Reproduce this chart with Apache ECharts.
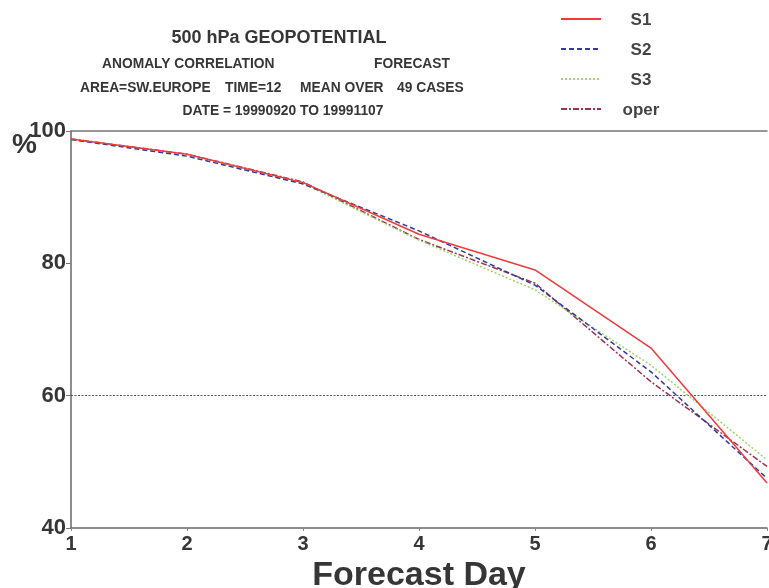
<!DOCTYPE html>
<html>
<head>
<meta charset="utf-8">
<script src="https://cdn.jsdelivr.net/npm/echarts@6/dist/echarts.min.js"></script>
<style>
html,body{margin:0;padding:0;background:#fff;overflow:hidden;}
#chart{width:769px;height:588px;}
</style>
</head>
<body>
<div id="chart"></div>
<script>
const days = [1, 2, 3, 4, 5, 6, 7];
const s1 = [98.8, 96.5, 92.2, 84.4, 79.0, 67.2, 46.8];
const s2 = [98.7, 96.2, 92.0, 84.9, 76.7, 63.6, 47.5];
const s3 = [98.8, 96.4, 92.1, 83.5, 76.0, 64.6, 50.3];
const oper = [98.8, 96.5, 92.3, 83.6, 77.0, 62.1, 49.3];
const seriesNames = ['S1', 'S2', 'S3', 'oper'];
const yTicks = [40, 60, 80, 100];
const refLine = 60;

const FONT = '"Liberation Sans", Arial, Helvetica, sans-serif';
const TXT = '#363636';
const pairs = arr => days.map((d, i) => [d, arr[i]]);

const chart = echarts.init(document.getElementById('chart'), null, {renderer: 'canvas', width: 769, height: 588});
const styles = [
  {color: '#f23a3a', type: 'solid'},
  {color: '#2f3b9e', type: [5, 3]},
  {color: '#9fd46a', type: [2, 2]},
  {color: '#a0304f', type: [6, 2, 2, 2]}
];
const dataSets = [s1, s2, s3, oper];

const series = dataSets.map((arr, i) => ({
  name: seriesNames[i],
  type: 'line',
  data: pairs(arr),
  symbol: 'none',
  smooth: false,
  z: 10 - i,
  lineStyle: {color: styles[i].color, type: styles[i].type, width: 1.5},
  itemStyle: {color: styles[i].color}
}));
series[0].markLine = {
  silent: true,
  symbol: 'none',
  label: {show: false},
  lineStyle: {color: '#555', type: [2, 1.5], width: 1},
  data: [{yAxis: refLine}]
};

chart.setOption({
  backgroundColor: '#ffffff',
  animation: false,
  grid: {left: 71, right: 2, top: 131, bottom: 60, containLabel: false, outerBoundsMode: 'none'},
  legend: {
    show: true,
    orient: 'vertical',
    left: 555,
    top: 7,
    itemWidth: 40,
    itemHeight: 14,
    itemGap: 13,
    data: seriesNames,
    itemStyle: {opacity: 0},
    formatter: name => '{c|' + name + '}',
    textStyle: {
      fontFamily: FONT, fontSize: 17, fontWeight: 'bold', color: '#444',
      rich: {c: {fontFamily: FONT, fontSize: 17, fontWeight: 'bold', color: '#444', width: 40, align: 'center', padding: [3, 0, 0, 15]}}
    }
  },
  xAxis: [{
    type: 'value',
    min: 1, max: 7, interval: 1,
    axisLine: {show: true, lineStyle: {color: '#666', width: 1.5}},
    axisTick: {show: true, inside: false, length: 3, lineStyle: {color: '#888'}},
    splitLine: {show: false},
    axisLabel: {fontFamily: FONT, fontSize: 20, fontWeight: 'bold', color: TXT, margin: 6},
    name: 'Forecast Day',
    nameLocation: 'middle',
    nameGap: 31,
    nameTextStyle: {fontFamily: FONT, fontSize: 34, fontWeight: 'bold', color: TXT}
  }, {
    type: 'value',
    position: 'top',
    min: 1, max: 7,
    axisLine: {show: true, lineStyle: {color: '#777', width: 1.5}},
    axisTick: {show: false},
    axisLabel: {show: false},
    splitLine: {show: false}
  }],
  yAxis: {
    type: 'value',
    min: 40, max: 100, interval: 20,
    axisLine: {show: true, lineStyle: {color: '#666', width: 1.5}},
    axisTick: {show: true, length: 5, lineStyle: {color: '#777'}},
    splitLine: {show: false},
    axisLabel: {fontFamily: FONT, fontSize: 22, fontWeight: 'bold', color: TXT, margin: 5,
      formatter: v => yTicks.includes(v) ? String(v) : ''}
  },
  graphic: [
    {type: 'text', left: 12, top: 131, style: {text: '%', font: 'bold 28px ' + FONT, fill: TXT}},
    {type: 'text', x: 279, y: 38, style: {text: '500 hPa GEOPOTENTIAL', font: 'bold 18px ' + FONT, fill: TXT, align: 'center', verticalAlign: 'middle'}},
    {type: 'text', x: 102, y: 64, style: {text: 'ANOMALY CORRELATION', font: 'bold 13.8px ' + FONT, fill: TXT, align: 'left', verticalAlign: 'middle'}},
    {type: 'text', x: 412, y: 64, style: {text: 'FORECAST', font: 'bold 13.8px ' + FONT, fill: TXT, align: 'center', verticalAlign: 'middle'}},
    {type: 'text', x: 80, y: 88, style: {text: 'AREA=SW.EUROPE', font: 'bold 13.8px ' + FONT, fill: TXT, align: 'left', verticalAlign: 'middle'}},
    {type: 'text', x: 225, y: 88, style: {text: 'TIME=12', font: 'bold 13.8px ' + FONT, fill: TXT, align: 'left', verticalAlign: 'middle'}},
    {type: 'text', x: 300, y: 88, style: {text: 'MEAN OVER', font: 'bold 13.8px ' + FONT, fill: TXT, align: 'left', verticalAlign: 'middle'}},
    {type: 'text', x: 397, y: 88, style: {text: '49 CASES', font: 'bold 13.8px ' + FONT, fill: TXT, align: 'left', verticalAlign: 'middle'}},
    {type: 'text', x: 283, y: 111, style: {text: 'DATE = 19990920 TO 19991107', font: 'bold 13.8px ' + FONT, fill: TXT, align: 'center', verticalAlign: 'middle'}}
  ],
  series: series
});
</script>
</body>
</html>
